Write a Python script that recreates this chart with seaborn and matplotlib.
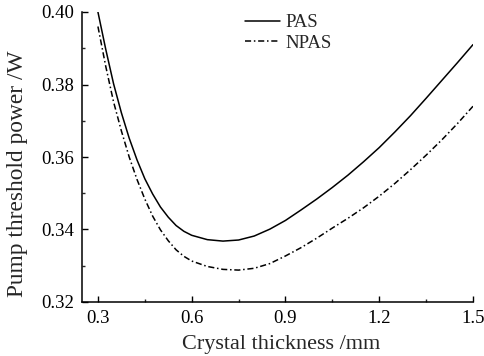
import numpy as np
import pandas as pd
import matplotlib
matplotlib.use("Agg")
import matplotlib.pyplot as plt
import seaborn as sns
from matplotlib.ticker import MultipleLocator

thickness = [0.30, 0.325, 0.35, 0.375, 0.40, 0.425, 0.45, 0.475, 0.50, 0.525,
             0.55, 0.575, 0.60, 0.65, 0.70, 0.75, 0.80, 0.85, 0.90, 0.95, 1.00,
             1.05, 1.10, 1.15, 1.20, 1.25, 1.30, 1.35, 1.40, 1.45, 1.50]
pas = [0.4000, 0.3897, 0.3802, 0.3722, 0.3652, 0.3592, 0.3540, 0.3498, 0.3462,
       0.3434, 0.3411, 0.3395, 0.3384, 0.3372, 0.3368, 0.3371, 0.3382, 0.3401,
       0.3425, 0.3454, 0.3484, 0.3516, 0.3550, 0.3587, 0.3626, 0.3669, 0.3714,
       0.3762, 0.3811, 0.3860, 0.3910]
npas = [0.3960, 0.3850, 0.3752, 0.3672, 0.3600, 0.3538, 0.3484, 0.3437, 0.3399,
        0.3369, 0.3344, 0.3326, 0.3313, 0.3298, 0.3290, 0.3288, 0.3293, 0.3306,
        0.3327, 0.3350, 0.3376, 0.3404, 0.3431, 0.3460, 0.3492, 0.3527, 0.3565,
        0.3605, 0.3647, 0.3692, 0.3740]
series_names = ["PAS", "NPAS"]
xticks = [0.3, 0.6, 0.9, 1.2, 1.5]
yticks = [0.32, 0.34, 0.36, 0.38, 0.40]

df = pd.DataFrame({
    "x": thickness * 2,
    "y": pas + npas,
    "series": [series_names[0]] * len(thickness) + [series_names[1]] * len(thickness),
})

sns.set_theme(style="ticks")
plt.rcParams["font.family"] = ["Liberation Serif", "DejaVu Serif"]

fig = plt.figure(figsize=(4.84, 3.56), dpi=100)
ax = fig.add_axes([82 / 484, 54 / 356, 391 / 484, 290 / 356])

sns.lineplot(data=df, x="x", y="y", hue="series", style="series",
             palette={"PAS": "black", "NPAS": "black"},
             dashes={"PAS": "", "NPAS": (4, 1.8, 1, 1.8)},
             linewidth=1.1, ax=ax, legend=True, sort=False)

ax.set_xlim(0.249, 1.5)
ax.set_ylim(0.32, 0.40)
ax.set_xticks(xticks)
ax.set_xticklabels(["0.3", "0.6", "0.9", "1.2", "1.5"])
ax.set_yticks(yticks)
ax.set_yticklabels(["0.32", "0.34", "0.36", "0.38", "0.40"])
ax.xaxis.set_minor_locator(MultipleLocator(0.15))
ax.yaxis.set_minor_locator(MultipleLocator(0.01))
ax.tick_params(axis="both", which="major", direction="in", length=4, width=1,
               labelsize=13.5, pad=6, colors="black")
ax.tick_params(axis="both", which="minor", direction="in", length=2.5, width=1)
for s in ["top", "right"]:
    ax.spines[s].set_visible(False)
for s in ["left", "bottom"]:
    ax.spines[s].set_linewidth(1.1)
    ax.spines[s].set_color("black")

ax.set_xlabel("Crystal thickness /mm", fontsize=16)
ax.set_ylabel("Pump threshold power /W", fontsize=16.8)
ax.xaxis.set_label_coords(0.509, -0.115)
ax.yaxis.set_label_coords(-0.139, 0.441)

handles, labels = ax.get_legend_handles_labels()
leg = ax.legend(handles=handles, labels=labels, loc="upper left",
                bbox_to_anchor=((245 - 82) / 391, 1.0 - 2 / 290), frameon=False,
                fontsize=13.5, handlelength=1.85, handletextpad=0.3,
                labelspacing=0.2, borderpad=0, borderaxespad=0)

fig.savefig("out.png", dpi=100)
